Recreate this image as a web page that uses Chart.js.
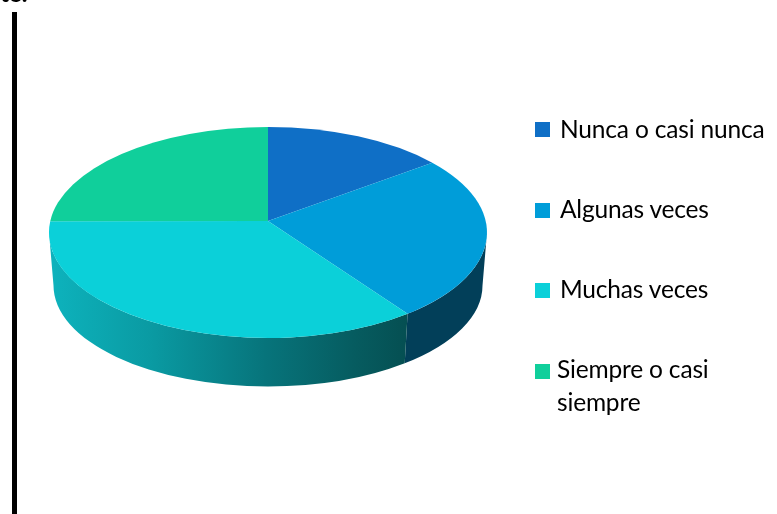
<!DOCTYPE html>
<html>
<head>
<meta charset="utf-8">
<style>
  html, body { margin: 0; padding: 0; background: #fff; overflow: hidden; }
  #wrap { position: relative; width: 777px; height: 514px; overflow: hidden; }
  #rule { position: absolute; left: 12px; top: 12px; width: 5px; bottom: 0; background: #000; }
  #cut { position: absolute; left: 0; top: -21px; font: bold 24px/28px Lato, sans-serif; color: #000; }
  .key { position: absolute; left: 535px; width: 15px; height: 15px; }
  .label { position: absolute; font: 24.5px/33px Lato, sans-serif; color: #000; white-space: nowrap; letter-spacing: -0.18px; }
</style>
</head>
<body>
<div id="wrap">
  <canvas id="Chart" width="777" height="514"></canvas>
  <div id="cut">te.</div>
  <div id="rule"></div>
</div>
<script src="https://cdn.jsdelivr.net/npm/chart.js@4"></script>
<script>
const categories = ["Nunca o casi nunca", "Algunas veces", "Muchas veces", "Siempre o casi siempre"];
const shares = [13.5, 25.5, 37.7, 23.3];
const colors = ["#0F6FC6", "#009DD9", "#0BD0D9", "#10CF9B"];

// how the flat pie gets tilted into the 3D look
const tiltRatio = 105.5 / 219;
const apexLift = 11.5;
const floorDrop = 53;
const floorShrink = 4.5;

// walls are shaded left to right, blue one is nearly flat
function wallFill(ctx, index) {
    if (index === 2) {
        const grad = ctx.createLinearGradient(53, 0, 407, 0);
        grad.addColorStop(0, "#0DB2BC");
        grad.addColorStop(0.28, "#0A9AA2");
        grad.addColorStop(0.6, "#07747B");
        grad.addColorStop(0.85, "#065C60");
        grad.addColorStop(1, "#054F52");
        return grad;
    }
    return "#023F59";
}

const pie3d = {
    id: "pie3d",
    // replaces the normal arc drawing, angles still come from the chart
    beforeDatasetsDraw(chart) {
        const ctx = chart.ctx;
        const arcs = chart.getDatasetMeta(0).data;
        const cx = arcs[0].x;
        const cy = arcs[0].y;
        const rx = arcs[0].outerRadius;
        const ry = rx * tiltRatio;
        const floorRx = rx - floorShrink;
        const floorRy = ry - floorShrink;

        arcs.forEach((arc, i) => {
            const a = Math.max(arc.startAngle, 0);
            const b = Math.min(arc.endAngle, Math.PI);
            if (a >= b) return;
            ctx.beginPath();
            ctx.ellipse(cx, cy, rx, ry, 0, a, b);
            ctx.ellipse(cx, cy + floorDrop, floorRx, floorRy, 0, b, a, true);
            ctx.closePath();
            ctx.fillStyle = wallFill(ctx, i);
            ctx.fill();
        });

        arcs.forEach((arc, i) => {
            ctx.beginPath();
            ctx.moveTo(cx, cy - apexLift);
            ctx.ellipse(cx, cy, rx, ry, 0, arc.startAngle, arc.endAngle);
            ctx.closePath();
            ctx.fillStyle = colors[i];
            ctx.fill();
        });
        return false;
    }
};

new Chart(document.getElementById("Chart"), {
    type: "pie",
    data: {
        labels: categories,
        datasets: [{ data: shares, backgroundColor: colors, borderWidth: 0 }]
    },
    options: {
        responsive: false,
        animation: false,
        layout: { padding: { left: 49, right: 290, top: 13.5, bottom: 62.5 } },
        plugins: { legend: { display: false }, tooltip: { enabled: false } }
    },
    plugins: [pie3d]
});

// legend by hand, the last entry wraps onto two lines
const keyTops = [122, 203, 283, 364];
const labelTops = [112, 192, 272, 352];
const labelLefts = [560, 560, 560, 557];
const wrap = document.getElementById("wrap");
categories.forEach((name, i) => {
    const key = document.createElement("div");
    key.className = "key";
    key.style.top = keyTops[i] + "px";
    key.style.background = colors[i];
    wrap.appendChild(key);

    const label = document.createElement("div");
    label.className = "label";
    label.style.top = labelTops[i] + "px";
    label.style.left = labelLefts[i] + "px";
    label.innerHTML = name === "Siempre o casi siempre" ? "Siempre o casi<br>siempre" : name;
    wrap.appendChild(label);
});
</script>
</body>
</html>
